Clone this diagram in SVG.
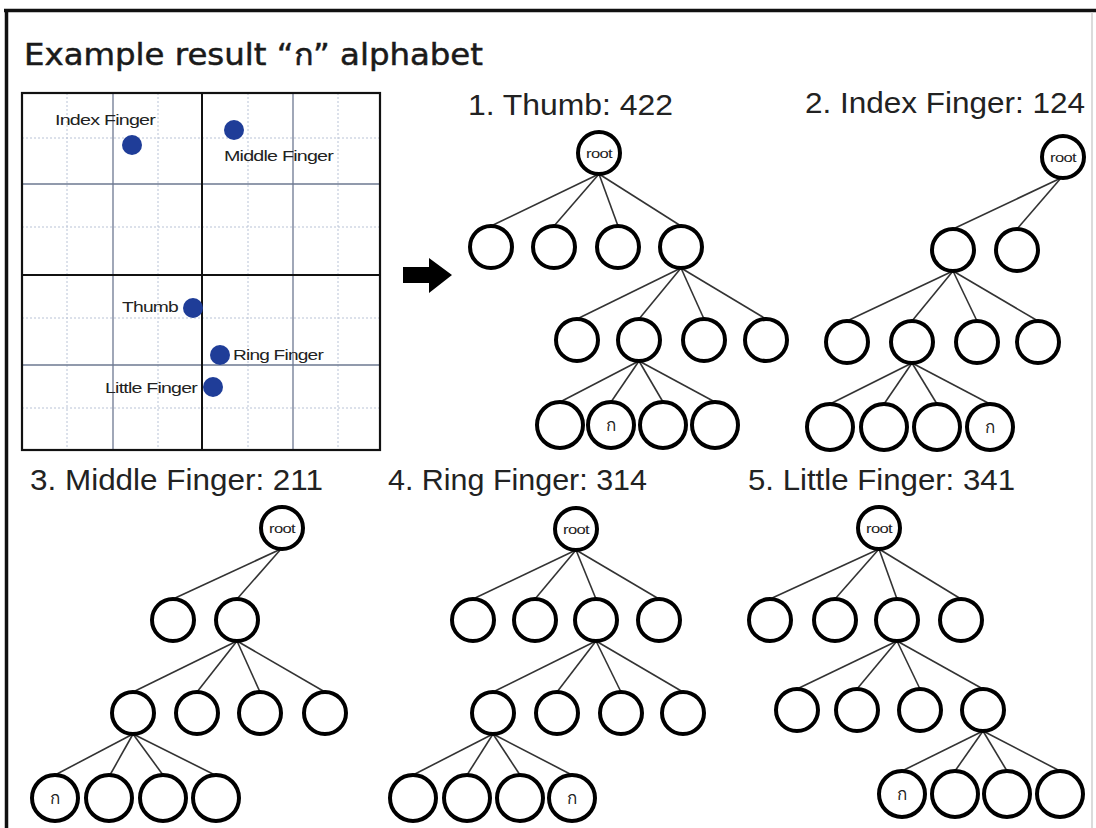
<svg xmlns="http://www.w3.org/2000/svg" width="1096" height="828" viewBox="0 0 1096 828">
  <style>
    .title { font-family: "DejaVu Sans", "Noto Sans", sans-serif; font-size: 30px; fill: #1a1a1a; stroke: #1a1a1a; stroke-width: 0.5; }
    .head { font-family: "Liberation Sans", Arial, sans-serif; font-size: 29px; fill: #222; }
    .lbl { font-family: "Liberation Sans", Arial, sans-serif; font-size: 15px; fill: #222; letter-spacing: -0.6px; }
    .node circle { fill: #fff; stroke: #000; stroke-width: 4; }
    .root text { font-family: "Liberation Sans", Arial, sans-serif; font-size: 13px; fill: #222; text-anchor: middle; letter-spacing: -0.5px; }
    .leaf text { font-family: "Noto Sans", "DejaVu Sans", sans-serif; font-size: 17px; fill: #222; text-anchor: middle; }
    .edges line { stroke: #333; stroke-width: 1.6; }
    .g8 { stroke: #b9c3d6; stroke-width: 1; stroke-dasharray: 2 2; }
    .g4 { stroke: #6d7891; stroke-width: 1.3; }
    .g2 { stroke: #111; stroke-width: 2; }
    .dot { fill: #1f3d98; }
  </style>

  <rect width="1096" height="828" fill="#fff"/>

  <!-- page frame -->
  <g id="frame">
    <line x1="4" y1="10.5" x2="1096" y2="10.5" stroke="#111" stroke-width="3.5"/>
    <line x1="6.5" y1="9" x2="6.5" y2="828" stroke="#111" stroke-width="3.5"/>
    <line x1="1092" y1="12" x2="1092" y2="828" stroke="#cfcfcf" stroke-width="1.5"/>
  </g>

  <text id="title" class="title" x="24" y="65" textLength="459" lengthAdjust="spacingAndGlyphs">Example result “ก” alphabet</text>

  <!-- finger position grid -->
  <g id="grid">
    <g class="g8">
      <line x1="67" y1="93" x2="67" y2="450"/>
      <line x1="158" y1="93" x2="158" y2="450"/>
      <line x1="248" y1="93" x2="248" y2="450"/>
      <line x1="338" y1="93" x2="338" y2="450"/>
      <line x1="22" y1="138" x2="380" y2="138"/>
      <line x1="22" y1="227" x2="380" y2="227"/>
      <line x1="22" y1="318" x2="380" y2="318"/>
      <line x1="22" y1="408" x2="380" y2="408"/>
    </g>
    <g class="g4">
      <line x1="113" y1="93" x2="113" y2="450"/>
      <line x1="293" y1="93" x2="293" y2="450"/>
      <line x1="22" y1="184" x2="380" y2="184"/>
      <line x1="22" y1="365" x2="380" y2="365"/>
    </g>
    <g class="g2">
      <line x1="202" y1="93" x2="202" y2="450"/>
      <line x1="22" y1="275" x2="380" y2="275"/>
    </g>
    <rect x="22" y="93" width="358" height="357" fill="none" stroke="#111" stroke-width="2.2"/>
  </g>

  <g id="finger-index">
    <circle class="dot" cx="132" cy="145" r="10"/>
    <text class="lbl" x="55" y="125" textLength="100" lengthAdjust="spacingAndGlyphs">Index Finger</text>
  </g>
  <g id="finger-middle">
    <circle class="dot" cx="234" cy="130" r="10"/>
    <text class="lbl" x="224" y="161" textLength="109" lengthAdjust="spacingAndGlyphs">Middle Finger</text>
  </g>
  <g id="finger-thumb">
    <circle class="dot" cx="193" cy="308" r="10"/>
    <text class="lbl" x="122" y="312" textLength="56" lengthAdjust="spacingAndGlyphs">Thumb</text>
  </g>
  <g id="finger-ring">
    <circle class="dot" cx="220" cy="355" r="10"/>
    <text class="lbl" x="233" y="360" textLength="90" lengthAdjust="spacingAndGlyphs">Ring Finger</text>
  </g>
  <g id="finger-little">
    <circle class="dot" cx="213" cy="387" r="10"/>
    <text class="lbl" x="105" y="393" textLength="92" lengthAdjust="spacingAndGlyphs">Little Finger</text>
  </g>

  <g id="arrow">
    <polygon points="403,267 429,267 429,258 452,275 429,293 429,283 403,283" fill="#000"/>
  </g>

  <!-- tree headings -->
  <text id="h1" class="head" x="468" y="115" textLength="205" lengthAdjust="spacingAndGlyphs">1. Thumb: 422</text>
  <text id="h2" class="head" x="805" y="113" textLength="280" lengthAdjust="spacingAndGlyphs">2. Index Finger: 124</text>
  <text id="h3" class="head" x="30" y="490" textLength="293" lengthAdjust="spacingAndGlyphs">3. Middle Finger: 211</text>
  <text id="h4" class="head" x="388" y="490" textLength="259" lengthAdjust="spacingAndGlyphs">4. Ring Finger: 314</text>
  <text id="h5" class="head" x="748" y="490" textLength="267" lengthAdjust="spacingAndGlyphs">5. Little Finger: 341</text>

  <!-- connectors: parent bottom to child top -->
  <g id="connectors" class="edges">
    <!-- tree 1 -->
    <line x1="599" y1="174" x2="491" y2="226"/>
    <line x1="599" y1="174" x2="554" y2="226"/>
    <line x1="599" y1="174" x2="618" y2="226"/>
    <line x1="599" y1="174" x2="681" y2="226"/>
    <line x1="681" y1="268" x2="577" y2="319"/>
    <line x1="681" y1="268" x2="639" y2="319"/>
    <line x1="681" y1="268" x2="704" y2="319"/>
    <line x1="681" y1="268" x2="766" y2="319"/>
    <line x1="639" y1="361" x2="560" y2="402"/>
    <line x1="639" y1="361" x2="611" y2="402"/>
    <line x1="639" y1="361" x2="663" y2="402"/>
    <line x1="639" y1="361" x2="715" y2="402"/>
    <!-- tree 2 -->
    <line x1="1061" y1="178" x2="953" y2="229"/>
    <line x1="1061" y1="178" x2="1017" y2="229"/>
    <line x1="953" y1="271" x2="847" y2="321"/>
    <line x1="953" y1="271" x2="912" y2="321"/>
    <line x1="953" y1="271" x2="977" y2="321"/>
    <line x1="953" y1="271" x2="1038" y2="321"/>
    <line x1="912" y1="363" x2="830" y2="404"/>
    <line x1="912" y1="363" x2="884" y2="404"/>
    <line x1="912" y1="363" x2="937" y2="404"/>
    <line x1="912" y1="363" x2="990" y2="404"/>
    <!-- tree 3 -->
    <line x1="281" y1="549" x2="173" y2="599"/>
    <line x1="281" y1="549" x2="237" y2="599"/>
    <line x1="237" y1="641" x2="133" y2="692"/>
    <line x1="237" y1="641" x2="197" y2="692"/>
    <line x1="237" y1="641" x2="260" y2="692"/>
    <line x1="237" y1="641" x2="325" y2="692"/>
    <line x1="133" y1="734" x2="55" y2="775"/>
    <line x1="133" y1="734" x2="110" y2="775"/>
    <line x1="133" y1="734" x2="163" y2="775"/>
    <line x1="133" y1="734" x2="215" y2="775"/>
    <!-- tree 4 -->
    <line x1="576" y1="550" x2="473" y2="599"/>
    <line x1="576" y1="550" x2="535" y2="599"/>
    <line x1="576" y1="550" x2="596" y2="599"/>
    <line x1="576" y1="550" x2="659" y2="599"/>
    <line x1="596" y1="641" x2="493" y2="692"/>
    <line x1="596" y1="641" x2="557" y2="692"/>
    <line x1="596" y1="641" x2="621" y2="692"/>
    <line x1="596" y1="641" x2="683" y2="692"/>
    <line x1="493" y1="734" x2="413" y2="775"/>
    <line x1="493" y1="734" x2="467" y2="775"/>
    <line x1="493" y1="734" x2="520" y2="775"/>
    <line x1="493" y1="734" x2="572" y2="775"/>
    <!-- tree 5 -->
    <line x1="879" y1="549" x2="770" y2="599"/>
    <line x1="879" y1="549" x2="835" y2="599"/>
    <line x1="879" y1="549" x2="897" y2="599"/>
    <line x1="879" y1="549" x2="961" y2="599"/>
    <line x1="897" y1="641" x2="797" y2="689"/>
    <line x1="897" y1="641" x2="857" y2="689"/>
    <line x1="897" y1="641" x2="920" y2="689"/>
    <line x1="897" y1="641" x2="983" y2="689"/>
    <line x1="983" y1="731" x2="902" y2="771"/>
    <line x1="983" y1="731" x2="955" y2="771"/>
    <line x1="983" y1="731" x2="1007" y2="771"/>
    <line x1="983" y1="731" x2="1060" y2="771"/>
  </g>

  <!-- tree 1: Thumb 4-2-2 -->
  <g id="t1-root" class="node root"><circle cx="599" cy="153" r="21"/><text x="599" y="157.5" textLength="26" lengthAdjust="spacingAndGlyphs">root</text></g>
  <g id="t1-n1" class="node"><circle cx="491" cy="247" r="21"/></g>
  <g id="t1-n2" class="node"><circle cx="554" cy="247" r="21"/></g>
  <g id="t1-n3" class="node"><circle cx="618" cy="247" r="21"/></g>
  <g id="t1-n4" class="node"><circle cx="681" cy="247" r="21"/></g>
  <g id="t1-n41" class="node"><circle cx="577" cy="340" r="21"/></g>
  <g id="t1-n42" class="node"><circle cx="639" cy="340" r="21"/></g>
  <g id="t1-n43" class="node"><circle cx="704" cy="340" r="21"/></g>
  <g id="t1-n44" class="node"><circle cx="766" cy="340" r="21"/></g>
  <g id="t1-n421" class="node"><circle cx="560" cy="425" r="23"/></g>
  <g id="t1-n422" class="node leaf"><circle cx="611" cy="425" r="23"/><text x="611" y="431">ก</text></g>
  <g id="t1-n423" class="node"><circle cx="663" cy="425" r="23"/></g>
  <g id="t1-n424" class="node"><circle cx="715" cy="425" r="23"/></g>

  <!-- tree 2: Index Finger 1-2-4 -->
  <g id="t2-root" class="node root"><circle cx="1063" cy="157" r="21"/><text x="1063" y="161.5" textLength="26" lengthAdjust="spacingAndGlyphs">root</text></g>
  <g id="t2-n1" class="node"><circle cx="953" cy="250" r="21"/></g>
  <g id="t2-n2" class="node"><circle cx="1017" cy="250" r="21"/></g>
  <g id="t2-n11" class="node"><circle cx="847" cy="342" r="21"/></g>
  <g id="t2-n12" class="node"><circle cx="912" cy="342" r="21"/></g>
  <g id="t2-n13" class="node"><circle cx="977" cy="342" r="21"/></g>
  <g id="t2-n14" class="node"><circle cx="1038" cy="342" r="21"/></g>
  <g id="t2-n121" class="node"><circle cx="830" cy="427" r="23"/></g>
  <g id="t2-n122" class="node"><circle cx="884" cy="427" r="23"/></g>
  <g id="t2-n123" class="node"><circle cx="937" cy="427" r="23"/></g>
  <g id="t2-n124" class="node leaf"><circle cx="990" cy="427" r="23"/><text x="990" y="433">ก</text></g>

  <!-- tree 3: Middle Finger 2-1-1 -->
  <g id="t3-root" class="node root"><circle cx="282" cy="528" r="21"/><text x="282" y="532.5" textLength="26" lengthAdjust="spacingAndGlyphs">root</text></g>
  <g id="t3-n1" class="node"><circle cx="173" cy="620" r="21"/></g>
  <g id="t3-n2" class="node"><circle cx="237" cy="620" r="21"/></g>
  <g id="t3-n21" class="node"><circle cx="133" cy="713" r="21"/></g>
  <g id="t3-n22" class="node"><circle cx="197" cy="713" r="21"/></g>
  <g id="t3-n23" class="node"><circle cx="260" cy="713" r="21"/></g>
  <g id="t3-n24" class="node"><circle cx="325" cy="713" r="21"/></g>
  <g id="t3-n211" class="node leaf"><circle cx="55" cy="798" r="23"/><text x="55" y="804">ก</text></g>
  <g id="t3-n212" class="node"><circle cx="109" cy="798" r="23"/></g>
  <g id="t3-n213" class="node"><circle cx="163" cy="798" r="23"/></g>
  <g id="t3-n214" class="node"><circle cx="216" cy="798" r="23"/></g>

  <!-- tree 4: Ring Finger 3-1-4 -->
  <g id="t4-root" class="node root"><circle cx="576" cy="529" r="21"/><text x="576" y="533.5" textLength="26" lengthAdjust="spacingAndGlyphs">root</text></g>
  <g id="t4-n1" class="node"><circle cx="473" cy="620" r="21"/></g>
  <g id="t4-n2" class="node"><circle cx="535" cy="620" r="21"/></g>
  <g id="t4-n3" class="node"><circle cx="596" cy="620" r="21"/></g>
  <g id="t4-n4" class="node"><circle cx="659" cy="620" r="21"/></g>
  <g id="t4-n31" class="node"><circle cx="493" cy="713" r="21"/></g>
  <g id="t4-n32" class="node"><circle cx="557" cy="713" r="21"/></g>
  <g id="t4-n33" class="node"><circle cx="621" cy="713" r="21"/></g>
  <g id="t4-n34" class="node"><circle cx="683" cy="713" r="21"/></g>
  <g id="t4-n311" class="node"><circle cx="413" cy="798" r="23"/></g>
  <g id="t4-n312" class="node"><circle cx="467" cy="798" r="23"/></g>
  <g id="t4-n313" class="node"><circle cx="520" cy="798" r="23"/></g>
  <g id="t4-n314" class="node leaf"><circle cx="572" cy="798" r="23"/><text x="572" y="804">ก</text></g>

  <!-- tree 5: Little Finger 3-4-1 -->
  <g id="t5-root" class="node root"><circle cx="879" cy="528" r="21"/><text x="879" y="532.5" textLength="26" lengthAdjust="spacingAndGlyphs">root</text></g>
  <g id="t5-n1" class="node"><circle cx="770" cy="620" r="21"/></g>
  <g id="t5-n2" class="node"><circle cx="835" cy="620" r="21"/></g>
  <g id="t5-n3" class="node"><circle cx="897" cy="620" r="21"/></g>
  <g id="t5-n4" class="node"><circle cx="961" cy="620" r="21"/></g>
  <g id="t5-n31" class="node"><circle cx="797" cy="710" r="21"/></g>
  <g id="t5-n32" class="node"><circle cx="857" cy="710" r="21"/></g>
  <g id="t5-n33" class="node"><circle cx="920" cy="710" r="21"/></g>
  <g id="t5-n34" class="node"><circle cx="983" cy="710" r="21"/></g>
  <g id="t5-n341" class="node leaf"><circle cx="902" cy="794" r="23"/><text x="902" y="800">ก</text></g>
  <g id="t5-n342" class="node"><circle cx="955" cy="794" r="23"/></g>
  <g id="t5-n343" class="node"><circle cx="1007" cy="794" r="23"/></g>
  <g id="t5-n344" class="node"><circle cx="1060" cy="794" r="23"/></g>
</svg>
